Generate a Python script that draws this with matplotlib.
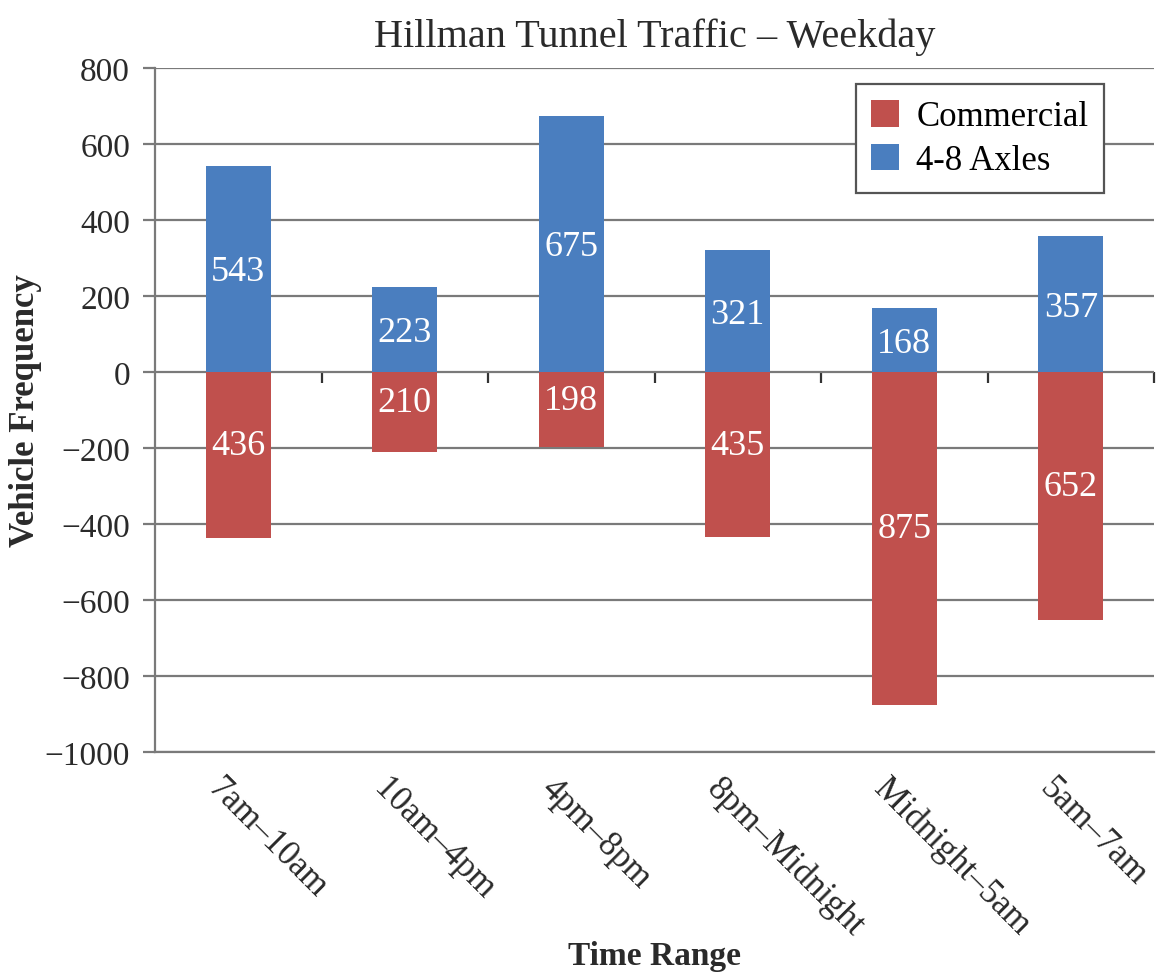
import matplotlib
matplotlib.use("Agg")
import matplotlib.pyplot as plt
import matplotlib.transforms as mtransforms
import numpy as np

categories = ["7am–10am", "10am–4pm", "4pm–8pm", "8pm–Midnight", "Midnight–5am", "5am–7am"]
axles = [543, 223, 675, 321, 168, 357]
commercial = [436, 210, 198, 435, 875, 652]
yticks = [800, 600, 400, 200, 0, -200, -400, -600, -800, -1000]

RED = "#C0504D"
BLUE = "#4A7EBF"
GRID = "#7a7a7a"
TXT = "#2a2a2a"

plt.rcParams['font.family'] = ['Liberation Serif', 'DejaVu Serif']

fig = plt.figure(figsize=(11.62, 9.79), dpi=100)
ax = fig.add_axes([155/1162, 1 - 753/979, (1154 - 155)/1162, (753 - 69)/979])

x = np.arange(len(categories))
w = 0.39
bb = ax.bar(x, axles, width=w, color=BLUE, label="4-8 Axles", zorder=3)
br = ax.bar(x, [-v for v in commercial], width=w, color=RED, label="Commercial", zorder=3)

for xi, v in zip(x, axles):
    ax.text(xi, v / 2 - 8, str(v), color="white", ha="center", va="center", fontsize=26, zorder=4)
for xi, v in zip(x, commercial):
    ax.text(xi, -v / 2 + 25, str(v), color="white", ha="center", va="center", fontsize=26, zorder=4)

ax.set_xlim(-0.5, len(categories) - 0.5)
ax.set_ylim(-1000, 800)
ax.set_yticks(yticks)
ax.set_yticklabels(["−" + str(-t) if t < 0 else str(t) for t in yticks], fontsize=24, color=TXT)
ax.yaxis.grid(True, color=GRID, linewidth=1.6, zorder=1)
ax.set_axisbelow(True)
ax.tick_params(axis="y", length=9, width=1.6, color=GRID, pad=9)

ax.set_xticks(x)
ax.set_xticklabels(categories, rotation=-45, ha="left", rotation_mode="anchor", fontsize=25, color=TXT)
ax.tick_params(axis="x", length=0, pad=14)
shift = mtransforms.ScaledTranslation(-14 / 100, 0, fig.dpi_scale_trans)
for lbl in ax.get_xticklabels():
    lbl.set_transform(lbl.get_transform() + shift)

for s in ["top", "right"]:
    ax.spines[s].set_visible(False)
for s in ["left", "bottom"]:
    ax.spines[s].set_color(GRID)
    ax.spines[s].set_linewidth(1.6)

# zero line with category-boundary ticks
zero_loc = 1000 / 1800
sec = ax.secondary_xaxis(zero_loc)
sec.set_xticks(np.arange(len(categories)) + 0.5)
sec.tick_params(axis="x", direction="out", length=8, width=1.6, color="#333333", labelbottom=False, labeltop=False, bottom=True, top=False)
sec.xaxis.set_ticks_position("bottom")
sec.set_xticklabels([])
sec.spines["bottom"].set_color("#333333")
sec.spines["bottom"].set_linewidth(1.8)
sec.spines["top"].set_visible(False)

ax.set_ylabel("Vehicle Frequency", fontsize=25, fontweight="bold", color=TXT, labelpad=2)
ax.set_xlabel("Time Range", fontsize=24, fontweight="bold", color=TXT)
ax.xaxis.set_label_coords(0.5, -0.275)
ax.set_title("Hillman Tunnel Traffic – Weekday", fontsize=29, color=TXT, pad=16)

leg = ax.legend(handles=[br, bb], labels=["Commercial", "4-8 Axles"], loc="upper right",
                bbox_to_anchor=(0.95, 0.976), fontsize=25, frameon=True, fancybox=False,
                handlelength=0.8, handleheight=0.8, handletextpad=0.5, borderpad=0.45, labelspacing=0.3,
                borderaxespad=0)
leg.get_frame().set_edgecolor("#555555")
leg.get_frame().set_linewidth(1.6)
leg.get_frame().set_alpha(1)

fig.savefig("out.png", dpi=100, facecolor="white")
